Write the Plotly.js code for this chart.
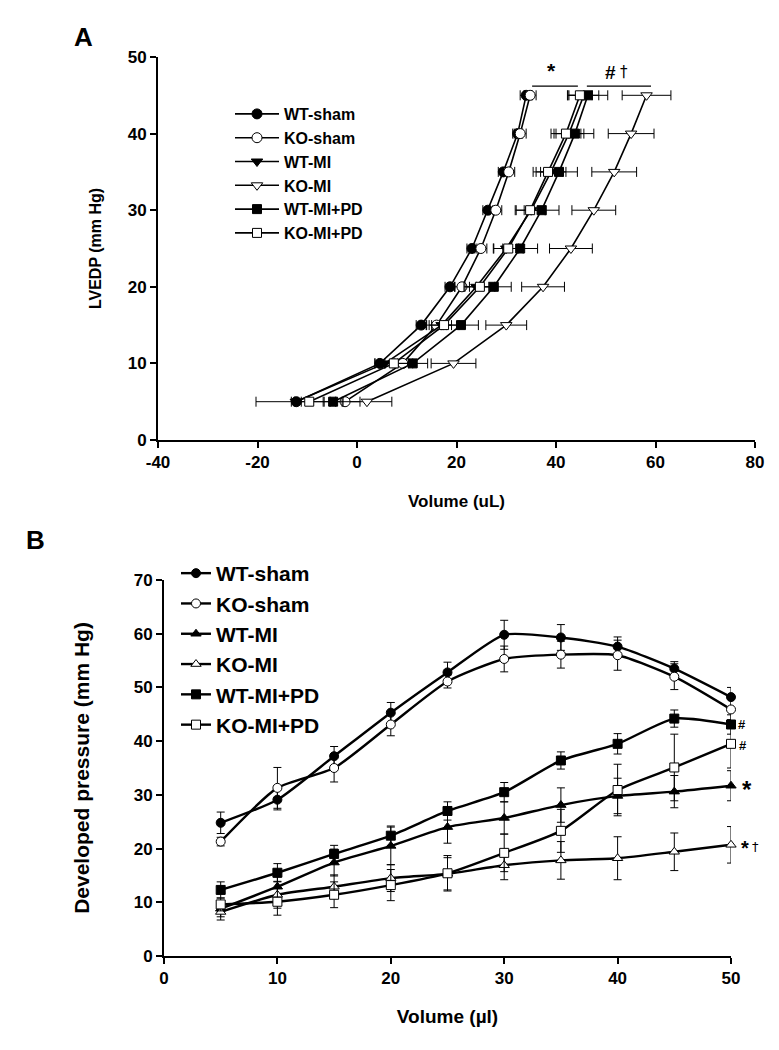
<!DOCTYPE html>
<html>
<head>
<meta charset="utf-8">
<script src="https://cdn.plot.ly/plotly-3.0.1.min.js"></script>
<style>
  html, body { margin: 0; padding: 0; background: #fff; }
  #graph { width: 779px; height: 1050px; }
</style>
</head>
<body>
<div id="graph"></div>
<script>
// Panel A: LVEDP (y) against volume (x), mean +/- SEM on volume
const lvedpLevels = [5, 10, 15, 20, 25, 30, 35, 40, 45];

const aWtSham      = [-12.2, 4.6, 12.9, 18.7, 23.1, 26.3, 29.4, 32.3, 34.0];
const aWtShamErr   = [1.0, 1.0, 1.0, 1.0, 1.0, 1.0, 1.0, 1.0, 1.2];
const aKoSham      = [-2.4, 9.2, 16.0, 21.1, 24.9, 27.9, 30.5, 32.8, 34.8];
const aKoShamErr   = [3.0, 2.0, 2.0, 1.5, 1.2, 1.2, 1.2, 1.2, 1.2];
const aWtMi        = [-12.3, 5.6, 17.0, 24.0, 30.0, 35.0, 39.0, 42.6, 45.6];
const aWtMiErr     = [8.0, 2.0, 2.0, 2.5, 2.5, 3.0, 3.0, 3.0, 3.0];
const aKoMi        = [2.0, 19.4, 30.0, 37.4, 43.0, 47.6, 51.7, 55.1, 58.2];
const aKoMiErr     = [5.0, 4.5, 4.1, 4.3, 4.3, 4.4, 4.5, 4.6, 4.9];
const aWtMiPd      = [-4.8, 11.2, 20.9, 27.5, 32.8, 37.1, 40.6, 43.8, 46.4];
const aWtMiPdErr   = [2.0, 3.0, 3.5, 3.5, 3.5, 3.5, 3.7, 3.8, 4.0];
const aKoMiPd      = [-9.6, 7.4, 17.5, 24.7, 30.4, 34.8, 38.4, 42.0, 44.8];
const aKoMiPdErr   = [3.0, 3.0, 3.0, 3.0, 3.0, 3.0, 3.0, 3.0, 2.5];

// x tick labels of panel A use a plain hyphen, as in the source figure
const aVolumeTicks = [-40, -20, 0, 20, 40, 60, 80];
const aVolumeLabels = ['-40', '-20', '0', '20', '40', '60', '80'];

// Panel B: developed pressure against volume, mean +/- SEM on pressure
const volumeSteps = [5, 10, 15, 20, 25, 30, 35, 40, 45, 50];

const bWtSham      = [24.8, 29.1, 37.2, 45.3, 52.8, 59.8, 59.3, 57.6, 53.5, 48.2];
const bWtShamErr   = [2.0, 1.9, 1.8, 1.9, 1.9, 2.7, 2.4, 1.8, 1.3, 1.8];
const bKoSham      = [21.3, 31.3, 35.0, 43.1, 51.1, 55.3, 56.1, 56.0, 52.0, 45.9];
const bKoShamErr   = [0.8, 3.8, 2.6, 2.1, 1.2, 2.4, 2.5, 2.8, 2.4, 2.0];
const bWtMi        = [8.8, 12.9, 17.4, 20.5, 24.0, 25.7, 28.1, 29.8, 30.6, 31.7];
const bWtMiErr     = [1.5, 1.8, 2.5, 3.5, 3.0, 3.0, 3.2, 3.3, 3.0, 2.8];
const bKoMi        = [8.2, 11.4, 12.9, 14.5, 15.3, 16.9, 17.8, 18.2, 19.4, 20.7];
const bKoMiErr     = [1.5, 2.5, 2.2, 2.5, 3.0, 2.7, 3.5, 4.0, 3.5, 3.4];
const bWtMiPd      = [12.3, 15.5, 19.0, 22.4, 27.0, 30.5, 36.4, 39.5, 44.2, 43.1];
const bWtMiPdErr   = [1.5, 1.7, 1.6, 1.8, 1.7, 1.8, 1.6, 1.9, 1.6, 1.8];
const bKoMiPd      = [9.6, 10.1, 11.4, 13.2, 15.4, 19.2, 23.3, 30.9, 35.1, 39.5];
const bKoMiPdErr   = [1.2, 2.5, 2.4, 2.9, 3.3, 3.5, 4.0, 4.8, 6.2, 4.5];

const seriesNames = ['WT-sham', 'KO-sham', 'WT-MI', 'KO-MI', 'WT-MI+PD', 'KO-MI+PD'];

const FONT = 'Liberation Sans, Arial, Helvetica, sans-serif';
const SYM_FONT = 'DejaVu Sans, Liberation Sans, sans-serif';

function markerOf(sym, filled, size) {
  return {
    symbol: sym,
    size: size,
    color: filled ? 'black' : 'white',
    line: { color: 'black', width: 1 }
  };
}

// panel A traces
const aSeries = [
  [aWtSham, aWtShamErr, 'circle', true],
  [aKoSham, aKoShamErr, 'circle', false],
  [aWtMi, aWtMiErr, 'triangle-down', true],
  [aKoMi, aKoMiErr, 'triangle-down', false],
  [aWtMiPd, aWtMiPdErr, 'square', true],
  [aKoMiPd, aKoMiPdErr, 'square', false]
];
const aTraces = aSeries.map((s, i) => ({
  x: s[0],
  y: lvedpLevels,
  name: seriesNames[i],
  type: 'scatter',
  mode: 'lines+markers',
  xaxis: 'x', yaxis: 'y',
  legend: 'legend',
  legendgroup: 'a' + i,
  line: { color: 'black', width: 1.6 },
  marker: markerOf(s[2], s[3], s[2] === 'square' ? 9 : 10),
  error_x: { type: 'data', array: s[1], visible: true, color: 'black', thickness: 1, width: 5 },
  cliponaxis: false
}));

// panel B traces
const bSeries = [
  [bWtSham, bWtShamErr, 'circle', true],
  [bKoSham, bKoShamErr, 'circle', false],
  [bWtMi, bWtMiErr, 'triangle-up', true],
  [bKoMi, bKoMiErr, 'triangle-up', false],
  [bWtMiPd, bWtMiPdErr, 'square', true],
  [bKoMiPd, bKoMiPdErr, 'square', false]
];
const bTraces = bSeries.map((s, i) => ({
  x: volumeSteps,
  y: s[0],
  name: seriesNames[i],
  type: 'scatter',
  mode: 'lines+markers',
  xaxis: 'x2', yaxis: 'y2',
  legend: 'legend2',
  legendgroup: 'b' + i,
  line: { color: 'black', width: 2.4, shape: 'spline', smoothing: 0.6 },
  marker: markerOf(s[2], s[3], 9),
  error_y: { type: 'data', array: s[1], visible: true, color: 'black', thickness: 1, width: 4 },
  cliponaxis: false
}));

const axisBase = {
  showline: true, linecolor: 'black', linewidth: 2,
  ticks: 'outside', ticklen: 6, tickwidth: 2, tickcolor: 'black',
  showgrid: false, zeroline: false,
  tickfont: { family: FONT, size: 17, color: 'black', weight: 'bold' }
};

const layout = {
  width: 779, height: 1050,
  margin: { l: 0, r: 0, t: 0, b: 0 },
  paper_bgcolor: 'white', plot_bgcolor: 'white',
  showlegend: true,
  font: { family: FONT, color: 'black' },
  xaxis: Object.assign({}, axisBase, {
    domain: [158 / 779, 755 / 779], range: [-40, 80], anchor: 'y',
    tickmode: 'array', tickvals: aVolumeTicks, ticktext: aVolumeLabels,
    title: { text: '<b>Volume (uL)</b>', font: { family: FONT, size: 17 }, standoff: 24 }
  }),
  yaxis: Object.assign({}, axisBase, {
    domain: [1 - 440 / 1050, 1 - 57 / 1050], range: [0, 50], dtick: 10, anchor: 'x',
    title: { text: '<b>LVEDP (mm Hg)</b>', font: { family: FONT, size: 16 }, standoff: 22 }
  }),
  xaxis2: Object.assign({}, axisBase, {
    domain: [164 / 779, 731 / 779], range: [0, 50], dtick: 10, anchor: 'y2',
    title: { text: '<b>Volume (µl)</b>', font: { family: FONT, size: 19 }, standoff: 22 }
  }),
  yaxis2: Object.assign({}, axisBase, {
    domain: [1 - 956 / 1050, 1 - 580 / 1050], range: [0, 70], dtick: 10, anchor: 'x2',
    title: { text: '<b>Developed pressure (mm Hg)</b>', font: { family: FONT, size: 21 }, standoff: 38 }
  }),
  legend: {
    x: 230 / 779, y: 1 - 97 / 1050, xanchor: 'left', yanchor: 'top',
    bgcolor: 'rgba(0,0,0,0)', borderwidth: 0, itemwidth: 44,
    tracegroupgap: 0, traceorder: 'normal',
    font: { family: FONT, size: 16, color: 'black', weight: 'bold' }
  },
  legend2: {
    x: 176 / 779, y: 1 - 553 / 1050, xanchor: 'left', yanchor: 'top',
    bgcolor: 'rgba(0,0,0,0)', borderwidth: 0, itemwidth: 30,
    tracegroupgap: 3, traceorder: 'normal',
    font: { family: FONT, size: 21, color: 'black', weight: 'bold' }
  },
  shapes: [
    { type: 'line', xref: 'x', yref: 'y', x0: 35.2, x1: 44.4, y0: 46.2, y1: 46.2, line: { color: 'black', width: 1.2 } },
    { type: 'line', xref: 'x', yref: 'y', x0: 46.2, x1: 59.1, y0: 46.2, y1: 46.2, line: { color: 'black', width: 1.2 } }
  ],
  annotations: [
    { text: '<b>A</b>', xref: 'paper', yref: 'paper', x: 72 / 779, y: 1 - 20 / 1050, showarrow: false, font: { family: FONT, size: 26 } },
    { text: '<b>B</b>', xref: 'paper', yref: 'paper', x: 24 / 779, y: 1 - 540 / 1050, showarrow: false, font: { family: FONT, size: 26 } },
    { text: '<b>*</b>', xref: 'x', yref: 'y', x: 39.0, y: 48.2, showarrow: false, font: { family: FONT, size: 21, color: 'black' } },
    { text: '<b>#</b>', xref: 'x', yref: 'y', x: 51.0, y: 48.0, showarrow: false, font: { family: FONT, size: 19, color: 'black' } },
    { text: '†', xref: 'x', yref: 'y', x: 53.7, y: 48.1, showarrow: false, font: { family: SYM_FONT, size: 15, color: 'black' } },
    { text: '<b>#</b>', xref: 'x2', yref: 'y2', x: 50, y: 43.1, xshift: 11, showarrow: false, font: { family: FONT, size: 13, color: 'black' } },
    { text: '<b>#</b>', xref: 'x2', yref: 'y2', x: 50, y: 39.5, xshift: 12, yshift: -2, showarrow: false, font: { family: FONT, size: 13, color: 'black' } },
    { text: '<b>*</b>', xref: 'x2', yref: 'y2', x: 50, y: 31.7, xshift: 16, yshift: -4, showarrow: false, font: { family: FONT, size: 24, color: 'black' } },
    { text: '<b>*</b>', xref: 'x2', yref: 'y2', x: 50, y: 20.7, xshift: 14, yshift: -3, showarrow: false, font: { family: FONT, size: 20, color: 'black' } },
    { text: '†', xref: 'x2', yref: 'y2', x: 50, y: 20.7, xshift: 24, yshift: -2, showarrow: false, font: { family: SYM_FONT, size: 13, color: 'black' } }
  ]
};

Plotly.newPlot('graph', aTraces.concat(bTraces), layout, { staticPlot: true });
</script>
</body>
</html>
